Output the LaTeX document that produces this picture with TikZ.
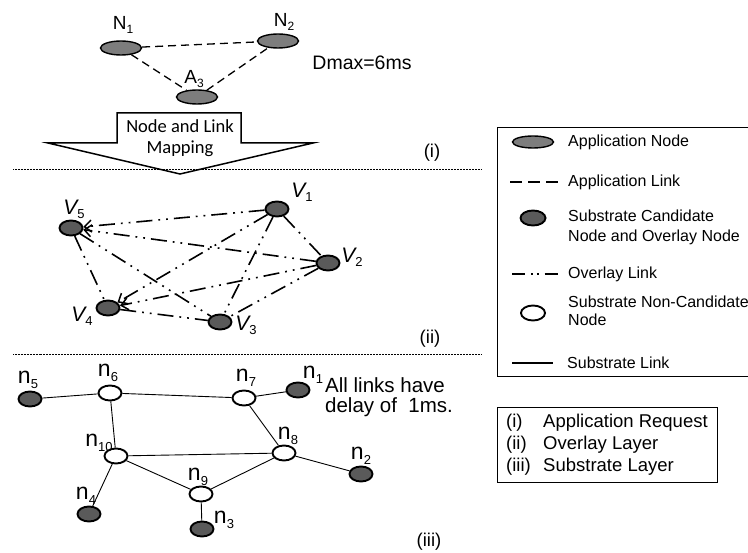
\documentclass[tikz,border=0pt]{standalone}
\usepackage{fontspec}
\setmainfont{Liberation Sans}
\newfontfamily\calibrifont{Carlito}
\usetikzlibrary{shapes.geometric,arrows.meta}
\definecolor{appgray}{RGB}{125,125,125}
\definecolor{candgray}{RGB}{90,90,90}
% lowered index used in node names
\newcommand\idx[2][12]{\raisebox{-0.2em}{\fontsize{#1}{#1}\selectfont #2}}
\newcommand\sz[2]{\fontsize{#1}{#2}\selectfont}
\begin{document}
\begin{tikzpicture}[x=1pt,y=-1pt,
  appnode/.style={ellipse, draw, line width=1.4pt, fill=appgray, minimum width=41pt, minimum height=14pt, inner sep=0pt},
  cand/.style={ellipse, draw, line width=1.9pt, fill=candgray, minimum width=23pt, minimum height=15pt, inner sep=0pt},
  noncand/.style={cand, fill=white},
  applink/.style={line width=1.3pt, dash pattern=on 8pt off 5pt},
  ovlink/.style={line width=1.6pt, dash pattern=on 16pt off 6pt on 1.8pt off 6pt on 1.8pt off 6pt},
  ovarrow/.style={-{Straight Barb[length=7pt,width=12pt,line width=1.5pt]}},
  sublink/.style={line width=0.9pt},
  sepline/.style={line width=0.7pt, dash pattern=on 0.7pt off 0.8pt},
  lbl/.style={inner sep=0pt, font=\sz{19}{19}},
  vlbl/.style={inner sep=0pt, font=\sz{21}{21}\itshape},
  nlbl/.style={inner sep=0pt, font=\sz{23}{23}},
  txt/.style={inner sep=0pt, font=\sz{18.5}{19}},
  legtxt/.style={inner sep=0pt, anchor=west, align=left, font=\sz{16}{20}},
  boxline/.style={line width=1pt}
]
\useasboundingbox (0,0) rectangle (748,553);

% ---------- application request ----------
\node[appnode] (N1) at (121,48) {};
\node[appnode] (N2) at (278,41) {};
\node[appnode] (A3) at (197,97) {};
\node[lbl] (lN1) at (123,25) {N\idx{1}};
\node[lbl] (lN2) at (284,22) {N\idx{2}};
\node[lbl] (lA3) at (194,79) {A\idx{3}};
\draw[applink] (N1) -- (N2);
\draw[applink] (N1) -- (A3);
\draw[applink] (A3) -- (N2);
\node[txt, font=\sz{19.5}{20}] (dmax) at (362,63) {Dmax=6ms};

% mapping arrow
\draw[line width=1.5pt, fill=white, line join=miter]
  (117,113) -- (241,113) -- (241,143) -- (313,143) -- (180,174)
  -- (48,143) -- (117,143) -- cycle;
\node[inner sep=0pt, align=center, font=\calibrifont\sz{18.5}{21}] (map) at (180,138) {Node and Link\\Mapping};

% layer separators
\coordinate (s1a) at (13,169);  \coordinate (s1b) at (482,169);
\coordinate (s2a) at (13,354);  \coordinate (s2b) at (482,354);
\draw[sepline] (s1a) -- (s1b);
\draw[sepline] (s2a) -- (s2b);
\node[txt] (li) at (432,153) {(i)};
\node[txt] (lii) at (430,339) {(ii)};
\node[txt] (liii) at (429,542) {(iii)};

% ---------- overlay layer ----------
\node[cand] (v5) at (71,228) {};
\node[cand] (v1) at (277,209) {};
\node[cand] (v2) at (328,263) {};
\node[cand] (v4) at (108,308) {};
\node[cand] (v3) at (220,322) {};
\node[vlbl] (lv5) at (74,209) {V\idx[13]{\upshape 5}};
\node[vlbl] (lv1) at (302,192) {V\idx[13]{\upshape 1}};
\node[vlbl] (lv2) at (352,257) {V\idx[13]{\upshape 2}};
\node[vlbl] (lv4) at (82,316) {V\idx[13]{\upshape 4}};
\node[vlbl] (lv3) at (246,325) {V\idx[13]{\upshape 3}};
\draw[ovlink, ovarrow] (v1) -- (v5);
\draw[ovlink, ovarrow] (v2) -- (v5);
\draw[ovlink, ovarrow] (v1) -- (v4);
\draw[ovlink, ovarrow] (v2) -- (v4);
\draw[ovlink] (v5) -- (v4);
\draw[ovlink] (v5) -- (v3);
\draw[ovlink] (v1) -- (v2);
\draw[ovlink] (v1) -- (v3);
\draw[ovlink] (v2) -- (v3);
\draw[ovlink] (v4) -- (v3);

% ---------- substrate layer ----------
\node[cand] (n5) at (30,399) {};
\node[noncand] (n6) at (110,393) {};
\node[noncand] (n7) at (244,398) {};
\node[cand] (n1) at (298,390) {};
\node[noncand] (n10) at (116,456) {};
\node[noncand] (n8) at (284,453) {};
\node[cand] (n2) at (361,474) {};
\node[noncand] (n9) at (201,494) {};
\node[cand] (n4) at (89,514) {};
\node[cand] (n3) at (202,529) {};
\node[nlbl] (ln5) at (28,380) {n\idx[13]{5}};
\node[nlbl] (ln6) at (108,373) {n\idx[13]{6}};
\node[nlbl] (ln7) at (246,378) {n\idx[13]{7}};
\node[nlbl] (ln1) at (313,375) {n\idx[13]{1}};
\node[nlbl] (ln10) at (99,443) {n\idx[13]{10}};
\node[nlbl] (ln8) at (288,436) {n\idx[13]{8}};
\node[nlbl] (ln2) at (361,456) {n\idx[13]{2}};
\node[nlbl] (ln9) at (198,477) {n\idx[13]{9}};
\node[nlbl] (ln4) at (86,496) {n\idx[13]{4}};
\node[nlbl] (ln3) at (224,520) {n\idx[13]{3}};
\draw[sublink] (n5) -- (n6);
\draw[sublink] (n6) -- (n7);
\draw[sublink] (n7) -- (n1);
\draw[sublink] (n6) -- (n10);
\draw[sublink] (n7) -- (n8);
\draw[sublink] (n10) -- (n8);
\draw[sublink] (n8) -- (n2);
\draw[sublink] (n10) -- (n9);
\draw[sublink] (n9) -- (n8);
\draw[sublink] (n10) -- (n4);
\draw[sublink] (n9) -- (n3);
\node[txt, anchor=west, align=left, font=\sz{20.5}{19.5}] (delay) at (325,397) {All links have\\delay of\ \ 1ms.};

% ---------- legend ----------
\node[draw, boxline, inner sep=0pt, minimum width=251pt, minimum height=249pt, anchor=north west] (leg) at (497,127) {};
\node[appnode, minimum height=12pt] (kApp) at (533,142) {};
\node[legtxt] (tApp) at (568,142) {Application Node};
\coordinate (kAl1) at (510,182); \coordinate (kAl2) at (558,182);
\draw[line width=1.3pt, dash pattern=on 12pt off 6pt] (kAl1) -- (kAl2);
\node[legtxt] (tAl) at (568,182) {Application Link};
\node[cand, minimum width=25pt] (kCand) at (533,218) {};
\node[legtxt] (tCand) at (568,227) {Substrate Candidate\\Node and Overlay Node};
\coordinate (kOl1) at (512,274); \coordinate (kOl2) at (558,274);
\draw[line width=1.6pt, dash pattern=on 13pt off 6pt on 1.8pt off 4pt on 1.8pt off 6pt] (kOl1) -- (kOl2);
\node[legtxt] (tOl) at (568,274) {Overlay Link};
\node[noncand, minimum width=24pt] (kNon) at (533,313) {};
\node[legtxt, font=\sz{16}{18}] (tNon) at (568,311) {Substrate Non-Candidate\\Node};
\coordinate (kSl1) at (512,363); \coordinate (kSl2) at (553,363);
\draw[line width=1.5pt] (kSl1) -- (kSl2);
\node[legtxt] (tSl) at (567,363) {Substrate Link};

\node[draw, boxline, inner sep=0pt, minimum width=220pt, minimum height=75pt, anchor=north west] (leg2) at (497,407) {};
\node[txt, anchor=west] (k1) at (506,423) {(i)};
\node[txt, anchor=west] (k2) at (506,445) {(ii)};
\node[txt, anchor=west] (k3) at (506,467) {(iii)};
\node[txt, anchor=west] (t1) at (543,423) {Application Request};
\node[txt, anchor=west] (t2) at (543,445) {Overlay Layer};
\node[txt, anchor=west] (t3) at (543,467) {Substrate Layer};
\end{tikzpicture}
\end{document}
